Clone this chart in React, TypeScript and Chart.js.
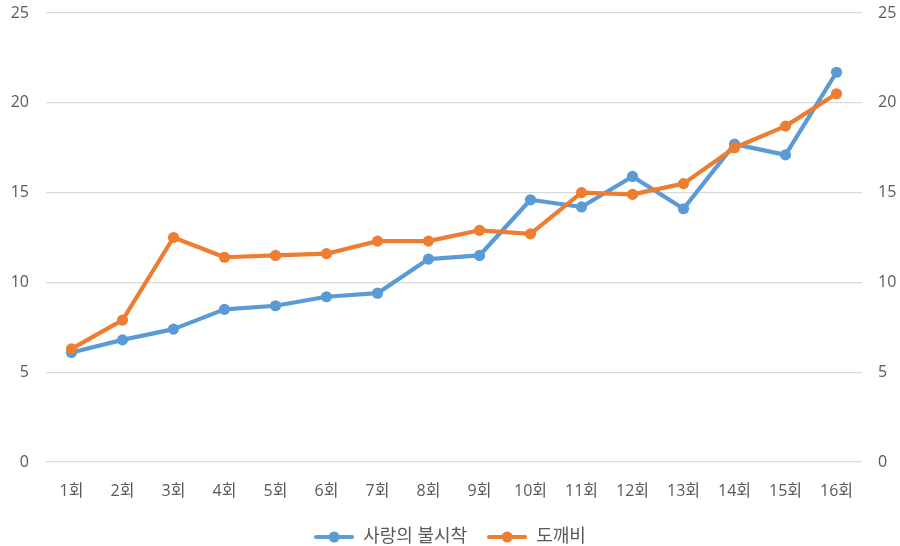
import { useEffect, useRef } from "react"
import { Chart, registerables } from "chart.js"

Chart.register(...registerables)

const episodes = ["1회", "2회", "3회", "4회", "5회", "6회", "7회", "8회", "9회", "10회", "11회", "12회", "13회", "14회", "15회", "16회"]
const crashLanding = [6.1, 6.8, 7.4, 8.5, 8.7, 9.2, 9.4, 11.3, 11.5, 14.6, 14.2, 15.9, 14.1, 17.7, 17.1, 21.7]
const goblin = [6.3, 7.9, 12.5, 11.4, 11.5, 11.6, 12.3, 12.3, 12.9, 12.7, 15.0, 14.9, 15.5, 17.5, 18.7, 20.5]
const seriesNames = ["사랑의 불시착", "도깨비"]

const BLUE = "#5b9bd5"
const ORANGE = "#ed7d31"
const TEXT = "#595959"
const FONT = "'Open Sans', 'Noto Sans CJK KR', sans-serif"

// small line + dot image for the legend, like Excel's
function legendMarker(color: string) {
  const c = document.createElement("canvas")
  c.width = 40
  c.height = 12
  const g = c.getContext("2d")
  if (g) {
    g.strokeStyle = color
    g.lineWidth = 4
    g.lineCap = "round"
    g.beginPath()
    g.moveTo(2, 6)
    g.lineTo(38, 6)
    g.stroke()
    g.fillStyle = color
    g.beginPath()
    g.arc(20, 6, 5.5, 0, Math.PI * 2)
    g.fill()
  }
  return c
}

export default function App() {
  const chartRef = useRef<HTMLCanvasElement>(null)
  const chartInstance = useRef<Chart | null>(null)

  useEffect(() => {
    if (!chartRef.current) return
    if (chartInstance.current) chartInstance.current.destroy()

    const markers = [legendMarker(BLUE), legendMarker(ORANGE)]

    chartInstance.current = new Chart(chartRef.current, {
      type: "line",
      data: {
        labels: episodes,
        datasets: [
          {
            label: seriesNames[0],
            data: crashLanding,
            borderColor: BLUE,
            backgroundColor: BLUE,
            pointBackgroundColor: BLUE,
            pointBorderColor: BLUE,
            order: 1,
          },
          {
            label: seriesNames[1],
            data: goblin,
            borderColor: ORANGE,
            backgroundColor: ORANGE,
            pointBackgroundColor: ORANGE,
            pointBorderColor: ORANGE,
            order: 0,
          },
        ],
      },
      options: {
        responsive: false,
        animation: false,
        layout: { padding: { top: 13, bottom: -10 } },
        elements: {
          line: { borderWidth: 4.2, tension: 0, borderJoinStyle: "round", borderCapStyle: "round" },
          point: { radius: 5.6, borderWidth: 0, hoverRadius: 5.6 },
        },
        scales: {
          x: {
            offset: true,
            grid: { display: false },
            border: { display: false },
            ticks: { color: TEXT, font: { family: FONT, size: 16 }, padding: 12 },
            afterFit: (scale) => {
              scale.height = 46
            },
          },
          y: {
            position: "left",
            min: 0,
            max: 25,
            afterFit: (scale) => {
              scale.width = 46
              scale.paddingTop = 0
              scale.paddingBottom = 0
            },
            ticks: { stepSize: 5, color: TEXT, font: { family: FONT, size: 16 }, padding: 17 },
            grid: { color: "#d9d9d9", lineWidth: 1.3, drawTicks: false },
            border: { display: false },
          },
          y2: {
            position: "right",
            min: 0,
            max: 25,
            afterFit: (scale) => {
              scale.width = 38
              scale.paddingTop = 0
              scale.paddingBottom = 0
            },
            ticks: { stepSize: 5, color: TEXT, font: { family: FONT, size: 16 }, padding: 16 },
            grid: { display: false, drawTicks: false },
            border: { display: false },
          },
        },
        plugins: {
          tooltip: { enabled: false },
          legend: {
            position: "bottom",
            labels: {
              usePointStyle: true,
              pointStyleWidth: 40,
              padding: 20,
              color: TEXT,
              font: { family: FONT, size: 18 },
              generateLabels: (chart) =>
                chart.data.datasets.map((ds, i) => ({
                  text: ds.label as string,
                  pointStyle: markers[i],
                  fillStyle: ds.borderColor as string,
                  strokeStyle: ds.borderColor as string,
                  lineWidth: 0,
                  fontColor: TEXT,
                  hidden: false,
                  datasetIndex: i,
                })),
            },
          },
        },
      },
    })

    return () => {
      if (chartInstance.current) {
        chartInstance.current.destroy()
        chartInstance.current = null
      }
    }
  }, [])

  return (
    <div style={{ position: "fixed", left: 0, top: 0, width: 900, height: 546, background: "#fff" }}>
      <canvas ref={chartRef} width={900} height={546}></canvas>
    </div>
  )
}
